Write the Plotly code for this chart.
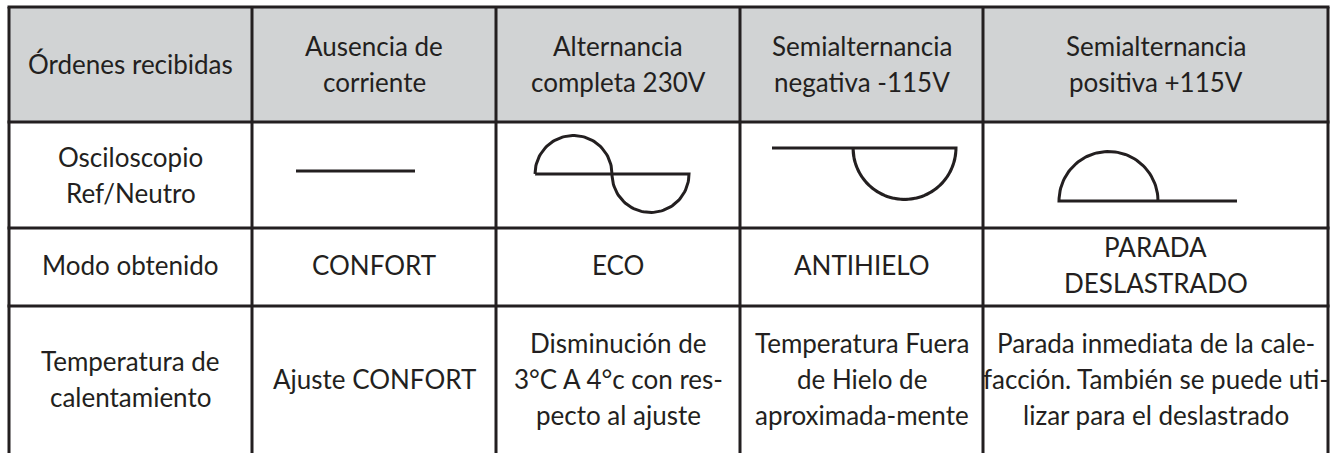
import numpy as np
import plotly.graph_objects as go

# ---- table content ----
row_labels = ["Órdenes recibidas", "Osciloscopio<br>Ref/Neutro", "Modo obtenido",
              "Temperatura de<br>calentamiento"]
headers = ["Ausencia de<br>corriente", "Alternancia<br>completa 230V",
           "Semialternancia<br>negativa -115V", "Semialternancia<br>positiva +115V"]
waves = ["flat", "full", "neg", "pos"]
modes = ["CONFORT", "ECO", "ANTIHIELO", "PARADA<br>DESLASTRADO"]
temps = ["Ajuste CONFORT",
         "Disminución de<br>3°C A 4°c con res-<br>pecto al ajuste",
         "Temperatura Fuera<br>de Hielo de<br>aproximada-mente",
         "Parada inmediata de la cale-<br>facción. También se puede uti-<br>lizar para el deslastrado"]

# ---- layout geometry (pixels) ----
W, H = 1337, 453
col_edges = [9, 252, 496, 740, 983, 1328]
row_edges = [7, 122, 228, 306, 453]
INK = "#231f20"
HEADER_BG = "#d1d3d4"
FONT = "Lato"
FS = 26
LINE_GAP = 36

fig = go.Figure()
shapes = []
annotations = []

# header background
shapes.append(dict(type="rect", x0=col_edges[0], x1=col_edges[-1], y0=row_edges[0], y1=row_edges[1],
                   fillcolor=HEADER_BG, line=dict(width=0), layer="below"))
# horizontal borders
for y in row_edges[:-1]:
    shapes.append(dict(type="line", x0=col_edges[0] - 1.5, x1=col_edges[-1] + 1.5, y0=y, y1=y,
                       line=dict(color=INK, width=3)))
# vertical borders
for x in col_edges:
    shapes.append(dict(type="line", x0=x, x1=x, y0=row_edges[0], y1=H + 5,
                       line=dict(color=INK, width=3)))


def add_text(text, cx, cy):
    lines = text.split("<br>")
    n = len(lines)
    for i, ln in enumerate(lines):
        y = cy + (i - (n - 1) / 2) * LINE_GAP
        annotations.append(dict(x=cx, y=y, xref="x", yref="y", text=ln, showarrow=False,
                                xanchor="center", yanchor="middle",
                                font=dict(family=FONT, size=FS, color=INK)))


row_centers = [64, 175, 265, 379]
col_centers = [(col_edges[i] + col_edges[i + 1]) / 2 for i in range(len(col_edges) - 1)]

for r, lab in enumerate(row_labels):
    add_text(lab, col_centers[0], row_centers[r])
for c, t in enumerate(headers):
    add_text(t, col_centers[c + 1], row_centers[0])
for c, t in enumerate(modes):
    add_text(t, col_centers[c + 1], row_centers[2])
for c, t in enumerate(temps):
    add_text(t, col_centers[c + 1], row_centers[3])


# ---- oscilloscope sketches (geometric drawings) ----
def arc(cx, cy, r, up=True, n=60):
    th = np.linspace(np.pi, 0, n)
    xs = cx + r * np.cos(th)
    ys = cy - r * np.sin(th) if up else cy + r * np.sin(th)
    return list(xs), list(ys)


def wave_path(kind):
    if kind == "flat":
        return [296, 415], [171, 171]
    if kind == "full":
        r = 38.5
        x0, y0 = 535, 174
        ax, ay = arc(x0 + r, y0, r, up=True)
        bx, by = arc(x0 + 3 * r, y0, r, up=False)
        xs = ax + bx + [x0]
        ys = ay + by + [y0]
        return xs, ys
    if kind == "neg":
        r = 51.5
        x0, y0 = 772, 148
        cx = 956 - r
        ax, ay = arc(cx, y0, r, up=False)
        return [x0] + ax[::-1] + ax, [y0] + ay[::-1] + ay
    if kind == "pos":
        r = 49.5
        x0, y0 = 1059, 201
        ax, ay = arc(x0 + r, y0, r, up=True)
        return [1237, x0] + ax, [y0, y0] + ay


for kind in waves:
    xs, ys = wave_path(kind)
    fig.add_trace(go.Scatter(x=xs, y=ys, mode="lines", line=dict(color=INK, width=3),
                             hoverinfo="skip", showlegend=False))

fig.update_layout(
    width=W, height=H, margin=dict(l=0, r=0, t=0, b=0),
    paper_bgcolor="white", plot_bgcolor="white",
    xaxis=dict(range=[0, W], visible=False, fixedrange=True),
    yaxis=dict(range=[H, 0], visible=False, fixedrange=True),
    shapes=shapes, annotations=annotations, showlegend=False,
)

fig.write_html("out.html", config={"displayModeBar": False},
               post_script="document.body.style.margin='0';document.body.style.overflow='hidden';")
